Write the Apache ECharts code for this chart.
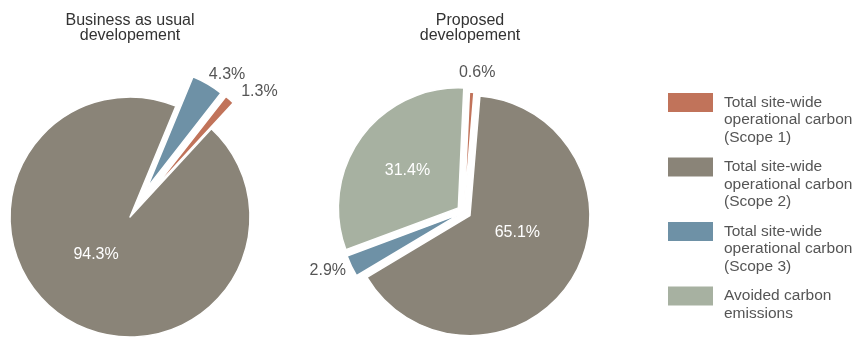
<!DOCTYPE html>
<html><head><meta charset="utf-8">
<script src="https://cdn.jsdelivr.net/npm/echarts@6/dist/echarts.min.js"></script>
<style>html,body{margin:0;padding:0;background:#fff}#c{width:854px;height:341px}</style>
</head><body><div id="c"></div>
<script>
// ---- data ----
const categories = [
  'Total site-wide\noperational carbon\n(Scope 1)',
  'Total site-wide\noperational carbon\n(Scope 2)',
  'Total site-wide\noperational carbon\n(Scope 3)',
  'Avoided carbon\nemissions'
];
const pieTitles = ['Business as usual\ndevelopement', 'Proposed\ndevelopement'];
const bauValues = [1.3, 94.3, 4.3];
const proposedValues = [0.6, 65.1, 2.9, 31.4];

// ---- styles ----
const colors = ['#C1735A', '#8A8478', '#6E91A6', '#A7B1A1'];
const FONT = 'Liberation Sans, Arial, sans-serif';
const TXT = '#555';
const FS = 16;

// shiftUp: vertical shift of inside label (px), shiftLeft: horizontal shift
function insideLabel(shiftUp, shiftLeft) {
  return {
    show: true, position: 'inside',
    formatter: p => '{v|' + p.value + '%}' + (shiftUp ? '\n{s| }' : ''),
    rich: {
      v: {color: '#fff', fontSize: FS, fontFamily: FONT, lineHeight: 18, padding: [0, 2 * (shiftLeft || 0), 0, 0]},
      s: {fontSize: 2, lineHeight: 2 * (shiftUp || 0)}
    }
  };
}
function outsideLabel() {
  return {show: true, position: 'outside', color: TXT, fontSize: FS, fontFamily: FONT,
          formatter: p => p.value + '%'};
}

// per-slice style config (explode offset, label, label line lengths)
const bauStyle = [
  {offset: 34, label: outsideLabel(), len: 10, len2: 0},
  {offset: 0, label: insideLabel(15.5, 0), len: 0, len2: 0},
  {offset: 34, label: outsideLabel(), len: 10.4, len2: -9}
];
const propStyle = [
  {offset: 0, label: outsideLabel(), len: 19.3, len2: -19},
  {offset: 7, label: insideLabel(16, 6), len: 0, len2: 0},
  {offset: 5, label: outsideLabel(), len: 11, len2: -9.6},
  {offset: 7, label: insideLabel(0, 0), len: 0, len2: 0}
];

function buildPie(values, center, startAngle, styles) {
  return values.map((_, k) => ({
    type: 'pie',
    center: center,
    radius: 120,
    startAngle: startAngle,
    clockwise: true,
    avoidLabelOverlap: false,
    labelLayout: {hideOverlap: false},
    selectedMode: 'multiple',
    selectedOffset: styles[k].offset,
    animation: false,
    silent: true,
    emphasis: {disabled: true},
    data: values.map((v, i) => {
      if (i === k) {
        return {
          name: categories[i], value: v, selected: styles[i].offset > 0,
          itemStyle: {color: colors[i], borderColor: '#fff', borderWidth: 1.5},
          label: styles[i].label,
          labelLine: {show: false, length: styles[i].len, length2: styles[i].len2}
        };
      }
      return {
        name: '', value: v, selected: styles[k].offset > 0,
        itemStyle: {color: 'rgba(0,0,0,0)', borderWidth: 0},
        label: {show: false}, labelLine: {show: false}
      };
    })
  }));
}

// legend: one component per entry so the icon lines up with the first text line
const legendIconTops = [92, 156.5, 221, 285.5];
const LH = 17.5;
const LFS = 15.5;
function legendFor(i) {
  const lines = categories[i].split('\n');
  const spacer = (lines.length - 1) * LH;
  const blockH = spacer + lines.length * LH;
  return {
    orient: 'vertical',
    left: 666, top: legendIconTops[i] + 10.5 - blockH / 2 + (spacer - 2) / 2,
    padding: 0,
    icon: 'rect',
    itemWidth: 47, itemHeight: 21,
    selectedMode: false,
    data: [{name: categories[i]}],
    formatter: name => '{s| }\n' + name.split('\n').map(l => '{t|' + l + '}').join('\n'),
    textStyle: {
      rich: {
        s: {fontSize: 2, lineHeight: spacer},
        t: {fontSize: LFS, lineHeight: LH, color: TXT, fontFamily: FONT, padding: [0, 0, 0, 5]}
      }
    }
  };
}

const chart = echarts.init(document.getElementById('c'), null, {renderer: 'canvas'});
const titleStyle = {fontSize: FS, fontWeight: 'normal', color: '#333', fontFamily: FONT, lineHeight: 15};
chart.setOption({
  backgroundColor: '#fff',
  title: [
    {text: pieTitles[0], left: 130, top: 13, textAlign: 'center', padding: 0, textStyle: titleStyle},
    {text: pieTitles[1], left: 470, top: 13, textAlign: 'center', padding: 0, textStyle: titleStyle}
  ],
  legend: categories.map((_, i) => legendFor(i)),
  series: [
    ...buildPie(bauValues, [130, 217], 52, bauStyle),
    ...buildPie(proposedValues, [464, 212], 87.4, propStyle)
  ]
});
</script>
</body></html>
